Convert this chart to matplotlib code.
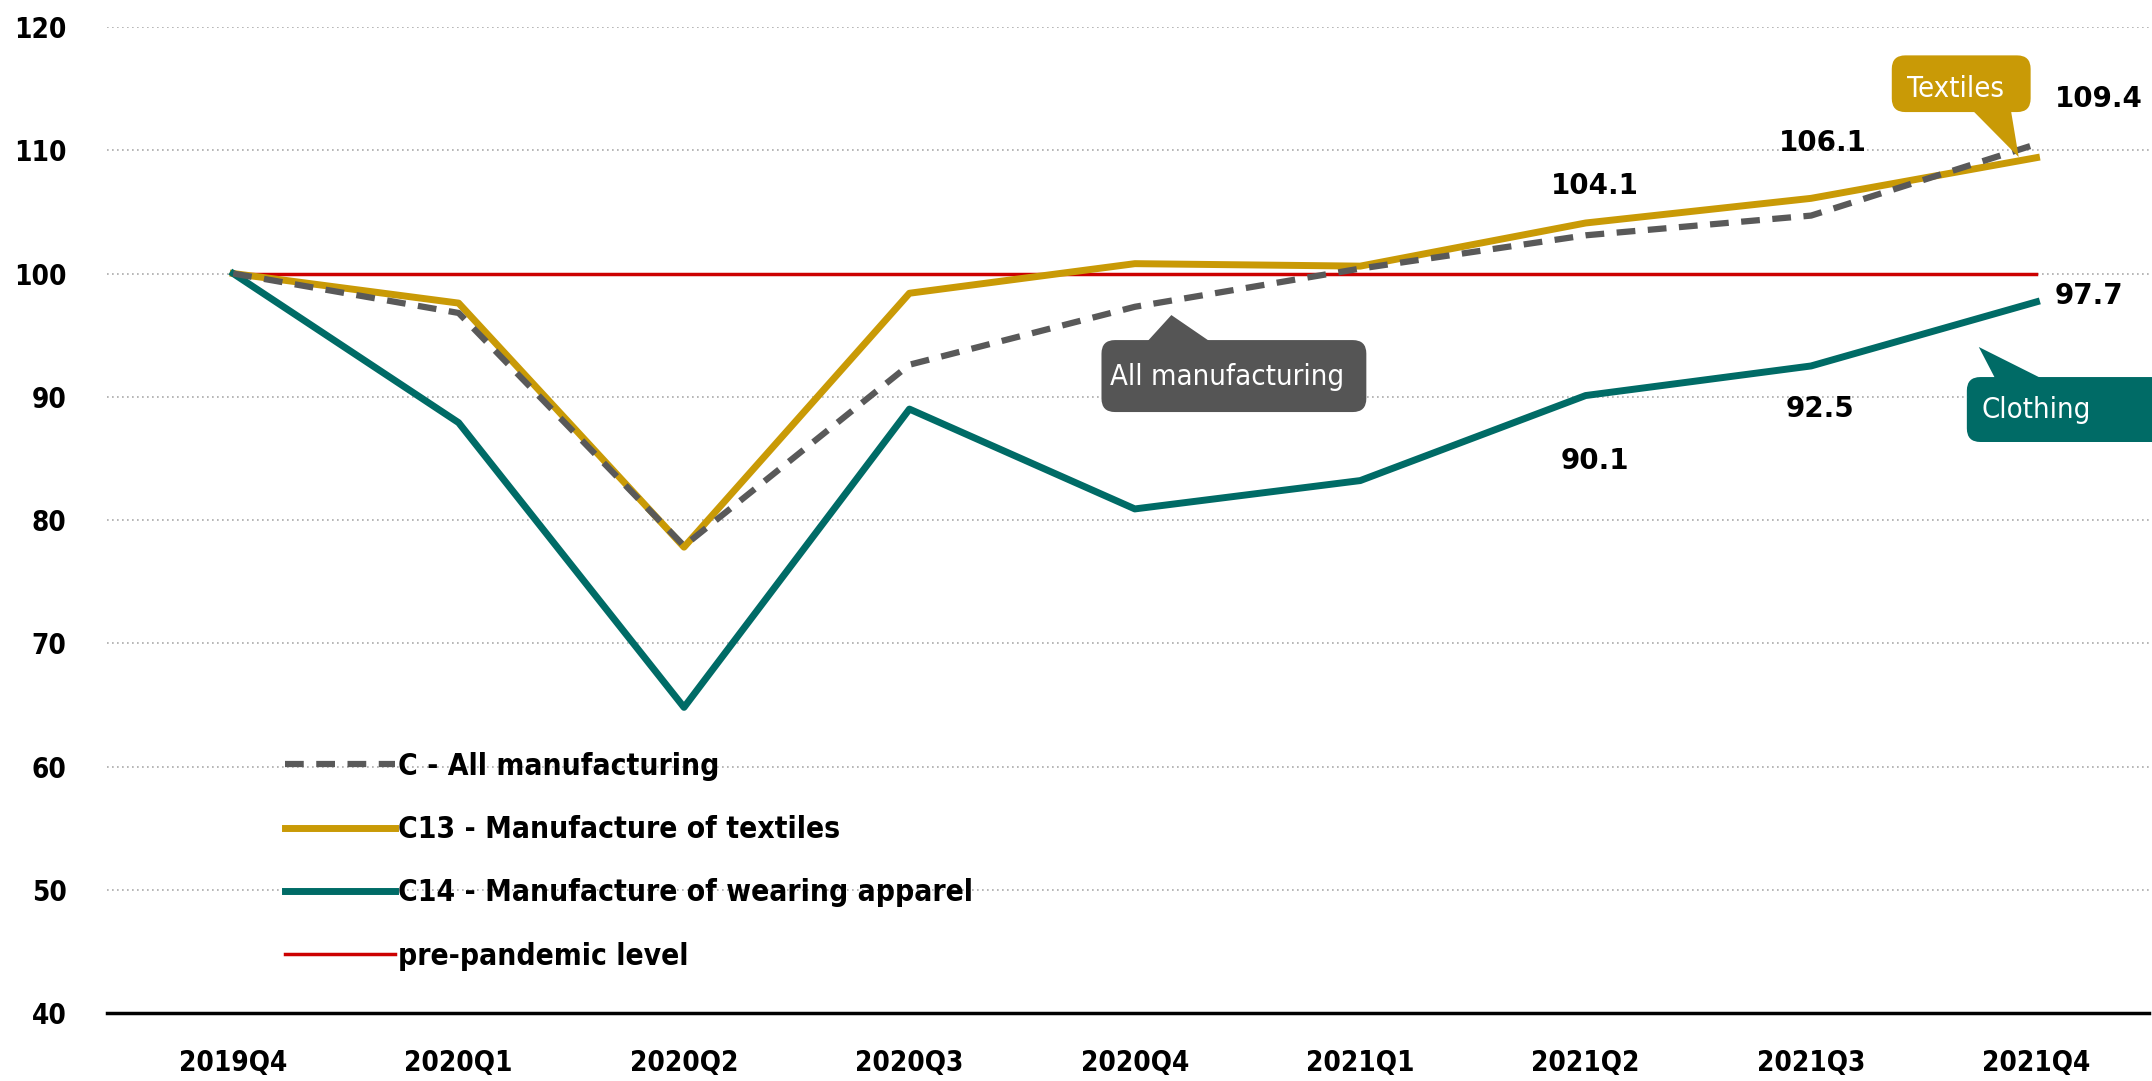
import numpy as np
import matplotlib.pyplot as plt
from matplotlib.patches import FancyBboxPatch, Polygon

plt.rcParams['font.family'] = ['DejaVu Sans']
plt.rcParams['font.stretch'] = 'condensed'

quarters = ['2019Q4', '2020Q1', '2020Q2', '2020Q3', '2020Q4',
            '2021Q1', '2021Q2', '2021Q3', '2021Q4']
all_manuf = [100, 96.8, 77.9, 92.6, 97.3, 100.4, 103.1, 104.7, 110.5]
textiles = [100, 97.6, 77.8, 98.4, 100.8, 100.6, 104.1, 106.1, 109.4]
clothing = [100, 87.9, 64.8, 89.0, 80.9, 83.2, 90.1, 92.5, 97.7]
pre_pandemic = [100] * len(quarters)

# labelled points and where their labels sit (dx, dy, ha)
textile_lbl = {6: (0.04, 3.0, 'center'), 7: (0.05, 4.5, 'center'), 8: (0.08, 4.8, 'left')}
clothing_lbl = {6: (0.04, -5.3, 'center'), 7: (0.04, -3.5, 'center'), 8: (0.08, 0.5, 'left')}

GOLD = '#C99A06'
TEAL = '#006B66'
RED = '#CC0000'
GREY = '#595959'
BOXGREY = '#555555'

fig = plt.figure(figsize=(21.52, 10.81), dpi=100)
ax = fig.add_axes([0.0497, 0.0629, 0.949, 0.9121])
x = np.arange(len(quarters))

ax.plot(x, all_manuf, color=GREY, lw=4.5, ls=(0, (3, 2)), label='C - All manufacturing', zorder=4)
ax.plot(x, textiles, color=GOLD, lw=5, label='C13 - Manufacture of textiles', zorder=3)
ax.plot(x, clothing, color=TEAL, lw=5, label='C14 - Manufacture of wearing apparel', zorder=3)
ax.plot(x, pre_pandemic, color=RED, lw=2.5, label='pre-pandemic level', zorder=2)

ax.set_ylim(40, 120)
ax.set_xlim(-0.56, 8.5)
ax.set_yticks(range(40, 121, 10))
ax.set_xticks(x)
ax.set_xticklabels(quarters)
ax.tick_params(length=0, labelsize=20, pad=26)
ax.tick_params(axis='y', pad=29)
for lab in ax.get_xticklabels() + ax.get_yticklabels():
    lab.set_fontweight('bold')
ax.yaxis.grid(True, ls=(0, (1, 2)), color='#AAAAAA', lw=1.2)
ax.set_axisbelow(True)
for s in ['top', 'right', 'left']:
    ax.spines[s].set_visible(False)
ax.spines['bottom'].set_linewidth(2.5)
ax.spines['bottom'].set_zorder(5)

# value labels
for series, lbls in [(textiles, textile_lbl), (clothing, clothing_lbl)]:
    for i, (dx, dy, ha) in lbls.items():
        ax.text(i + dx, series[i] + dy, f'{series[i]:.1f}', fontsize=20,
                fontweight='bold', fontstretch='normal', ha=ha, va='center')

# callouts: box corners, pointer triangle, text anchor
aspect = 225.6 / 12.325


def callout(txt, color, x0, x1, y0, y1, tri, tx, ty, ha='center'):
    box = FancyBboxPatch((x0, y0), x1 - x0, y1 - y0,
                         boxstyle='round,pad=0,rounding_size=0.06',
                         mutation_aspect=aspect, fc=color, ec='none',
                         zorder=6, clip_on=False)
    ax.add_patch(box)
    ax.add_patch(Polygon(tri, closed=True, fc=color, ec='none', zorder=6, clip_on=False))
    ax.text(tx, ty, txt, color='white', fontsize=21, ha=ha, va='center', zorder=7)


callout('Textiles', GOLD, 7.358, 7.974, 113.1, 117.7,
        [(7.713, 113.3), (7.886, 113.3), (7.921, 109.45)], 7.64, 115.0)
callout('All manufacturing', BOXGREY, 3.852, 5.027, 88.76, 94.6,
        [(4.051, 94.4), (4.340, 94.4), (4.162, 96.63)], 4.41, 91.6)
callout('Clothing', TEAL, 7.691, 8.72, 86.33, 91.6,
        [(7.819, 91.4), (8.032, 91.4), (7.744, 94.04)], 7.755, 88.9, ha='left')

leg = ax.legend(loc='center left', bbox_to_anchor=(0.087, 0.154), frameon=False,
                fontsize=21.5, handlelength=3.7, handletextpad=0.1, labelspacing=1.15,
                borderpad=0, borderaxespad=0)
for t in leg.get_texts():
    t.set_fontweight('bold')

fig.savefig('out.png', dpi=100)
